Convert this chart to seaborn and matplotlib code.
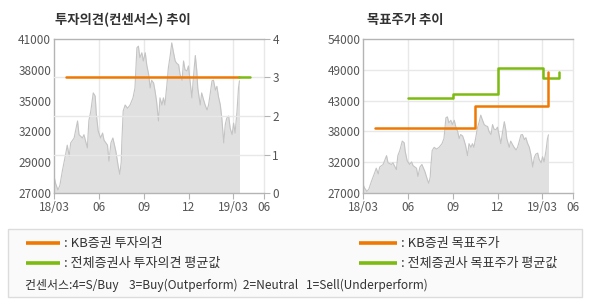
import matplotlib
matplotlib.use("Agg")
import matplotlib.pyplot as plt
from matplotlib.lines import Line2D
import seaborn as sns
import pandas as pd
import numpy as np

# ---------------- data ----------------
price_dates = [
    "2018-03-01", "2018-03-04", "2018-03-09", "2018-03-13", "2018-03-18", "2018-03-25", "2018-03-28",
    "2018-04-01", "2018-04-04", "2018-04-11", "2018-04-18", "2018-04-21", "2018-04-28",
    "2018-05-01", "2018-05-08", "2018-05-11", "2018-05-15", "2018-05-20", "2018-05-24", "2018-05-26",
    "2018-05-30", "2018-06-04", "2018-06-08", "2018-06-11", "2018-06-18", "2018-06-21", "2018-06-25",
    "2018-06-29", "2018-07-05", "2018-07-10", "2018-07-13", "2018-07-16", "2018-07-17", "2018-07-20",
    "2018-07-24", "2018-07-29", "2018-08-03", "2018-08-09", "2018-08-13", "2018-08-17", "2018-08-20",
    "2018-08-23", "2018-08-27", "2018-08-30", "2018-09-03", "2018-09-06", "2018-09-10", "2018-09-13",
    "2018-09-16", "2018-09-20", "2018-09-23", "2018-09-26", "2018-09-30", "2018-10-03", "2018-10-07",
    "2018-10-10", "2018-10-13", "2018-10-17", "2018-10-20", "2018-10-24", "2018-10-27", "2018-10-30",
    "2018-11-03", "2018-11-06", "2018-11-10", "2018-11-13", "2018-11-17", "2018-11-20", "2018-11-23",
    "2018-11-27", "2018-11-30", "2018-12-07", "2018-12-10", "2018-12-14", "2018-12-17", "2018-12-19",
    "2018-12-24", "2018-12-27", "2018-12-31", "2019-01-03", "2019-01-07", "2019-01-10", "2019-01-13",
    "2019-01-17", "2019-01-20", "2019-01-24", "2019-01-27", "2019-01-30", "2019-02-03", "2019-02-06",
    "2019-02-10", "2019-02-13", "2019-02-16", "2019-02-20", "2019-02-23", "2019-02-27", "2019-03-02",
    "2019-03-05", "2019-03-09", "2019-03-12", "2019-03-14",
]
price_values = [
    28550, 27900, 27270, 27700, 29000, 30600, 31350,
    30350, 31550, 32000, 33550, 32300, 32000,
    32300, 31100, 33550, 34450, 36100, 35800, 34300,
    32650, 32000, 32450, 31800, 31350, 29900, 31550,
    32000, 30800, 29400, 28700, 29800, 31350, 34450,
    35000, 34700, 35000, 35650, 36550, 40200, 40350,
    39300, 39750, 39000, 39750, 38650, 37750, 36550,
    37250, 37000, 36250, 35350, 33550, 35650, 35000,
    35650, 35000, 36800, 38350, 39550, 40650, 39900,
    39000, 38800, 38650, 37750, 37250, 39000, 38200,
    38100, 38550, 35650, 37450, 39500, 38100, 36550,
    35000, 36100, 35450, 35000, 34550, 35000, 35900,
    37200, 37250, 36350, 36700, 35800, 35000, 33800,
    31550, 33200, 33800, 34000, 32900, 32300, 33350,
    32450, 34450, 36550, 37200,
]

# investment opinion (right axis of left chart)
kb_opinion_dates = ["2018-03-26", "2019-03-13"]
kb_opinion_values = [3, 3]
avg_opinion_dates = ["2019-03-13", "2019-04-04"]
avg_opinion_values = [3, 3]

# target prices
kb_target_dates = ["2018-03-26", "2018-10-16", "2019-03-13"]
kb_target_values = [38450, 42250, 48200]
avg_target_dates = ["2018-06-01", "2018-09-01", "2018-12-01", "2019-03-02", "2019-04-04"]
avg_target_values = [43700, 44400, 48900, 47200, 48200]

x_tick_dates = ["2018-03-01", "2018-06-01", "2018-09-01", "2018-12-01", "2019-03-01", "2019-05-03"]
x_tick_labels = ["18/03", "06", "09", "12", "19/03", "06"]

left_ylim = (27000, 41000)
left_ytick_labels = ["27000", "29000", "32000", "35000", "38000", "41000"]
opinion_ticks = [0, 1, 2, 3, 4]
right_ylim = (27000, 54000)
right_ytick_labels = ["27000", "32000", "38000", "43000", "49000", "54000"]

title_left = "투자의견(컨센서스) 추이"
title_right = "목표주가 추이"
legend_labels = [": KB증권 투자의견", ": 전체증권사 투자의견 평균값",
                 ": KB증권 목표주가", ": 전체증권사 목표주가 평균값"]
consensus_note = "컨센서스:4=S/Buy    3=Buy(Outperform)  2=Neutral   1=Sell(Underperform)"

# ---------------- style ----------------
sns.set_theme(style="white")
plt.rcParams["font.family"] = ["Noto Sans CJK KR", "DejaVu Sans"]

ORANGE = "#f07800"
GREEN = "#7dbb10"
FILL = "#e0e0e0"
EDGE = "#c4c4c4"
SPINE = "#b4b4b4"
GRID = "#e8e8e8"
TXT = "#555555"

price = pd.DataFrame({"date": pd.to_datetime(price_dates), "price": price_values})
kb_op = pd.DataFrame({"date": pd.to_datetime(kb_opinion_dates), "v": kb_opinion_values})
av_op = pd.DataFrame({"date": pd.to_datetime(avg_opinion_dates), "v": avg_opinion_values})
kb_tg = pd.DataFrame({"date": pd.to_datetime(kb_target_dates), "v": kb_target_values})
av_tg = pd.DataFrame({"date": pd.to_datetime(avg_target_dates), "v": avg_target_values})
xt = pd.to_datetime(x_tick_dates)

W, H = 590, 300
fig = plt.figure(figsize=(W / 100, H / 100), dpi=100)
fig.patch.set_facecolor("white")


def rect(x0, y0, x1, y1):
    return [x0 / W, 1 - y1 / H, (x1 - x0) / W, (y1 - y0) / H]


def style_axes(ax, ylim, labels):
    ax.set_facecolor("white")
    ax.set_xlim(xt[0], xt[-1])
    ax.set_ylim(*ylim)
    ax.set_xticks(xt)
    ax.set_xticklabels(x_tick_labels)
    ax.set_yticks(np.linspace(ylim[0], ylim[1], len(labels)))
    ax.set_yticklabels(labels)
    ax.tick_params(axis="x", length=4, width=0.8, color=SPINE, pad=1.5,
                   labelsize=8.5, labelcolor=TXT, direction="out", bottom=True)
    ax.tick_params(axis="y", length=0, pad=2, labelsize=8.5, labelcolor=TXT, left=True)
    for s in ["left", "bottom", "top"]:
        ax.spines[s].set_color(SPINE)
        ax.spines[s].set_linewidth(1.0)
    ax.spines["right"].set_color(GRID)
    ax.spines["right"].set_linewidth(1.0)
    ax.grid(False)
    for d in xt[1:-1]:
        ax.axvline(d, color=GRID, lw=1.0, zorder=0.5)
    ax.set_xlabel("")
    ax.set_ylabel("")


def draw_price(ax, ylim):
    ax.fill_between(price["date"], price["price"], ylim[0], color=FILL, lw=0, zorder=1)
    sns.lineplot(data=price, x="date", y="price", ax=ax, color=EDGE, lw=0.8, zorder=1.5)


# ---- left chart ----
axL = fig.add_axes(rect(54, 39, 264, 193))
style_axes(axL, left_ylim, left_ytick_labels)
draw_price(axL, left_ylim)
axL.set_xlim(xt[0], xt[-1])
axL.set_ylim(*left_ylim)
axL.set_xlabel("")
axL.set_ylabel("")
axR = axL.twinx()
axR.set_ylim(0, 4)
axR.set_yticks(opinion_ticks)
axR.tick_params(axis="y", length=4, width=0.8, color=SPINE, pad=2,
                labelsize=8.5, labelcolor=TXT, right=True)
for s in axR.spines.values():
    s.set_visible(False)
for t in opinion_ticks[1:-1]:
    axR.axhline(t, color=GRID, lw=1.0, zorder=0.5)
sns.lineplot(data=kb_op, x="date", y="v", ax=axR, color=ORANGE, lw=1.8, drawstyle="steps-post", zorder=3)
sns.lineplot(data=av_op, x="date", y="v", ax=axR, color=GREEN, lw=1.8, drawstyle="steps-post", zorder=3)
axR.set_xlim(xt[0], xt[-1])
axR.set_ylabel("")
axR.set_xlabel("")
axL.set_zorder(0)

# ---- right chart ----
axT = fig.add_axes(rect(363, 39, 573, 193))
style_axes(axT, right_ylim, right_ytick_labels)
for t in np.linspace(right_ylim[0], right_ylim[1], len(right_ytick_labels))[1:-1]:
    axT.axhline(t, color=GRID, lw=1.0, zorder=0.5)
draw_price(axT, right_ylim)
sns.lineplot(data=av_tg, x="date", y="v", ax=axT, color=GREEN, lw=1.8, drawstyle="steps-post", zorder=3)
sns.lineplot(data=kb_tg, x="date", y="v", ax=axT, color=ORANGE, lw=1.8, drawstyle="steps-post", zorder=3)
axT.set_xlim(xt[0], xt[-1])
axT.set_ylim(*right_ylim)
axT.set_xlabel("")
axT.set_ylabel("")

# titles
fig.text(55 / W, 1 - 20 / H, title_left, fontsize=9.6, fontweight="bold", color="#333333",
         ha="left", va="center")
fig.text(367 / W, 1 - 20 / H, title_right, fontsize=9.6, fontweight="bold", color="#333333",
         ha="left", va="center")

# ---- legend box ----
box = fig.add_axes([0, 0, 1, 1], zorder=-1)
box.set_xlim(0, W)
box.set_ylim(H, 0)
box.axis("off")
box.add_patch(plt.Rectangle((8, 229), 574, 68, facecolor="#fafafa", edgecolor="#dcdcdc", lw=1))
leg_items = [(26, 60, 243, ORANGE, legend_labels[0]), (26, 60, 263, GREEN, legend_labels[1]),
             (359, 397, 243, ORANGE, legend_labels[2]), (359, 397, 263, GREEN, legend_labels[3])]
for x0, x1, y, c, lab in leg_items:
    box.add_line(Line2D([x0, x1], [y, y], color=c, lw=2.6, solid_capstyle="butt"))
    box.text(x1 + 4, y, lab, fontsize=9.4, color="#333333", ha="left", va="center")
box.text(25, 285, consensus_note, fontsize=8.6, color="#333333", ha="left", va="center")

fig.savefig("out.png", dpi=100, facecolor="white")
